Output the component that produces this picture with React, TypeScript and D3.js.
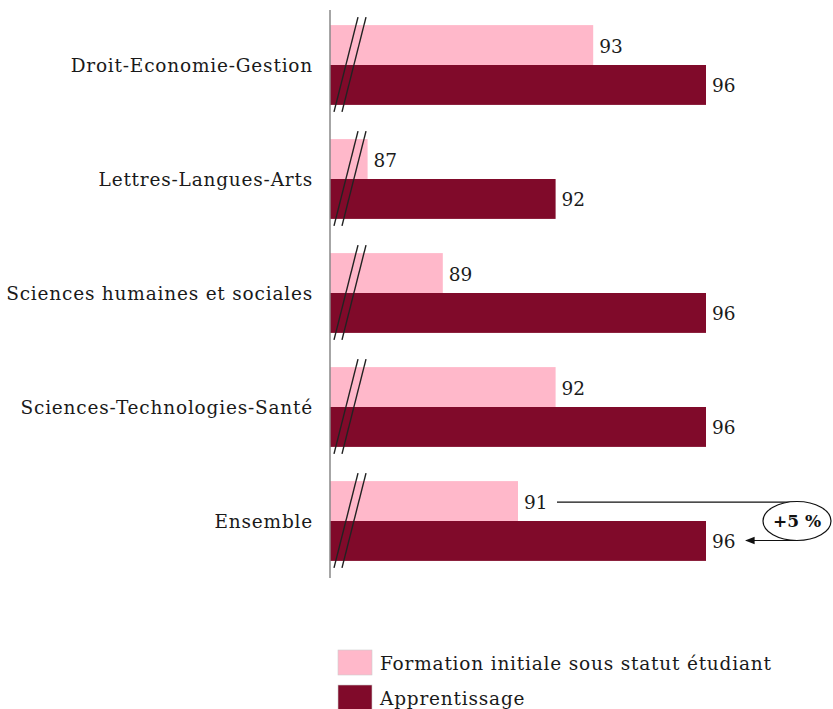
import React from 'react';
import * as d3 from 'd3';

const categories = [
  'Droit-Economie-Gestion',
  'Lettres-Langues-Arts',
  'Sciences humaines et sociales',
  'Sciences-Technologies-Santé',
  'Ensemble',
];
const formationValues = [93, 87, 89, 92, 91];
const apprentissageValues = [96, 92, 96, 96, 96];
const seriesNames = ['Formation initiale sous statut étudiant', 'Apprentissage'];
const seriesColors = ['#ffb8ca', '#800a2a'];
const gapLabel = '+5 %';

const W = 833;
const H = 709;
const FONT = '"DejaVu Serif", serif';
const FS = 18.5;
const LS = 0.8;

export default function App() {
  const x = d3.scaleLinear().domain([86, 96]).range([330, 706]);
  const y = d3.scaleBand<string>().domain(categories).range([8, 578]).paddingInner(0.3).paddingOuter(0.15);
  const bh = y.bandwidth() / 2;

  const last = categories[categories.length - 1];
  const ly = y(last)!;
  const ex = 797;
  const ey = ly + bh;

  return (
    <svg width={W} height={H} style={{ position: 'absolute', left: 0, top: 0, background: '#fff' }}
      fontFamily={FONT}>
      <defs>
        <marker id="arr" viewBox="0 0 10 10" refX="9" refY="5" markerWidth="8" markerHeight="8" orient="auto">
          <path d="M0,1 L10,5 L0,9 Z" fill="#111" />
        </marker>
      </defs>
      {categories.map((c, i) => {
        const y0 = y(c)!;
        return (
          <g key={c}>
            <text x={313} y={y0 + bh} textAnchor="end" dominantBaseline="central" fontSize={FS} letterSpacing={LS} fill="#1a1a1a">{c}</text>
            <rect x={x(86)} y={y0} width={x(formationValues[i]) - x(86)} height={bh} fill={seriesColors[0]} />
            <rect x={x(86)} y={y0 + bh} width={x(apprentissageValues[i]) - x(86)} height={bh} fill={seriesColors[1]} />
            <text x={x(formationValues[i]) + 6} y={y0 + bh / 2 + 1} dominantBaseline="central" fontSize={FS} fill="#1a1a1a">{formationValues[i]}</text>
            <text x={x(apprentissageValues[i]) + 6} y={y0 + bh * 1.5 + 1} dominantBaseline="central" fontSize={FS} fill="#1a1a1a">{apprentissageValues[i]}</text>
            {/* axis break marks */}
            <line x1={358} y1={y0 - 8} x2={334} y2={y0 + 2 * bh + 7} stroke="#222" strokeWidth={1.4} />
            <line x1={366} y1={y0 - 8} x2={342} y2={y0 + 2 * bh + 7} stroke="#222" strokeWidth={1.4} />
          </g>
        );
      })}
      <line x1={330} x2={330} y1={10} y2={578} stroke="#888" strokeWidth={1.5} />

      {/* gap annotation */}
      <line x1={x(formationValues[4]) + 39} x2={ex} y1={ly + bh / 2 + 1} y2={ly + bh / 2 + 1} stroke="#111" strokeWidth={1.2} />
      <ellipse cx={ex} cy={ey} rx={34} ry={19.5} fill="#fff" stroke="#111" strokeWidth={1.2} />
      <text x={ex} y={ey} textAnchor="middle" dominantBaseline="central" fontSize={17} fontWeight="bold" fill="#111">{gapLabel}</text>
      <line x1={ex} x2={x(apprentissageValues[4]) + 40} y1={ey + 19.5} y2={ey + 19.5} stroke="#111" strokeWidth={1.2} markerEnd="url(#arr)" />

      {/* legend */}
      {seriesNames.map((s, i) => (
        <g key={s} transform={`translate(338,${650 + i * 35})`}>
          <rect width={34} height={25} fill={seriesColors[i]} stroke="#ccc" strokeWidth={0.6} />
          <text x={42} y={13} dominantBaseline="central" fontSize={FS} letterSpacing={LS} fill="#1a1a1a">{s}</text>
        </g>
      ))}
    </svg>
  );
}
